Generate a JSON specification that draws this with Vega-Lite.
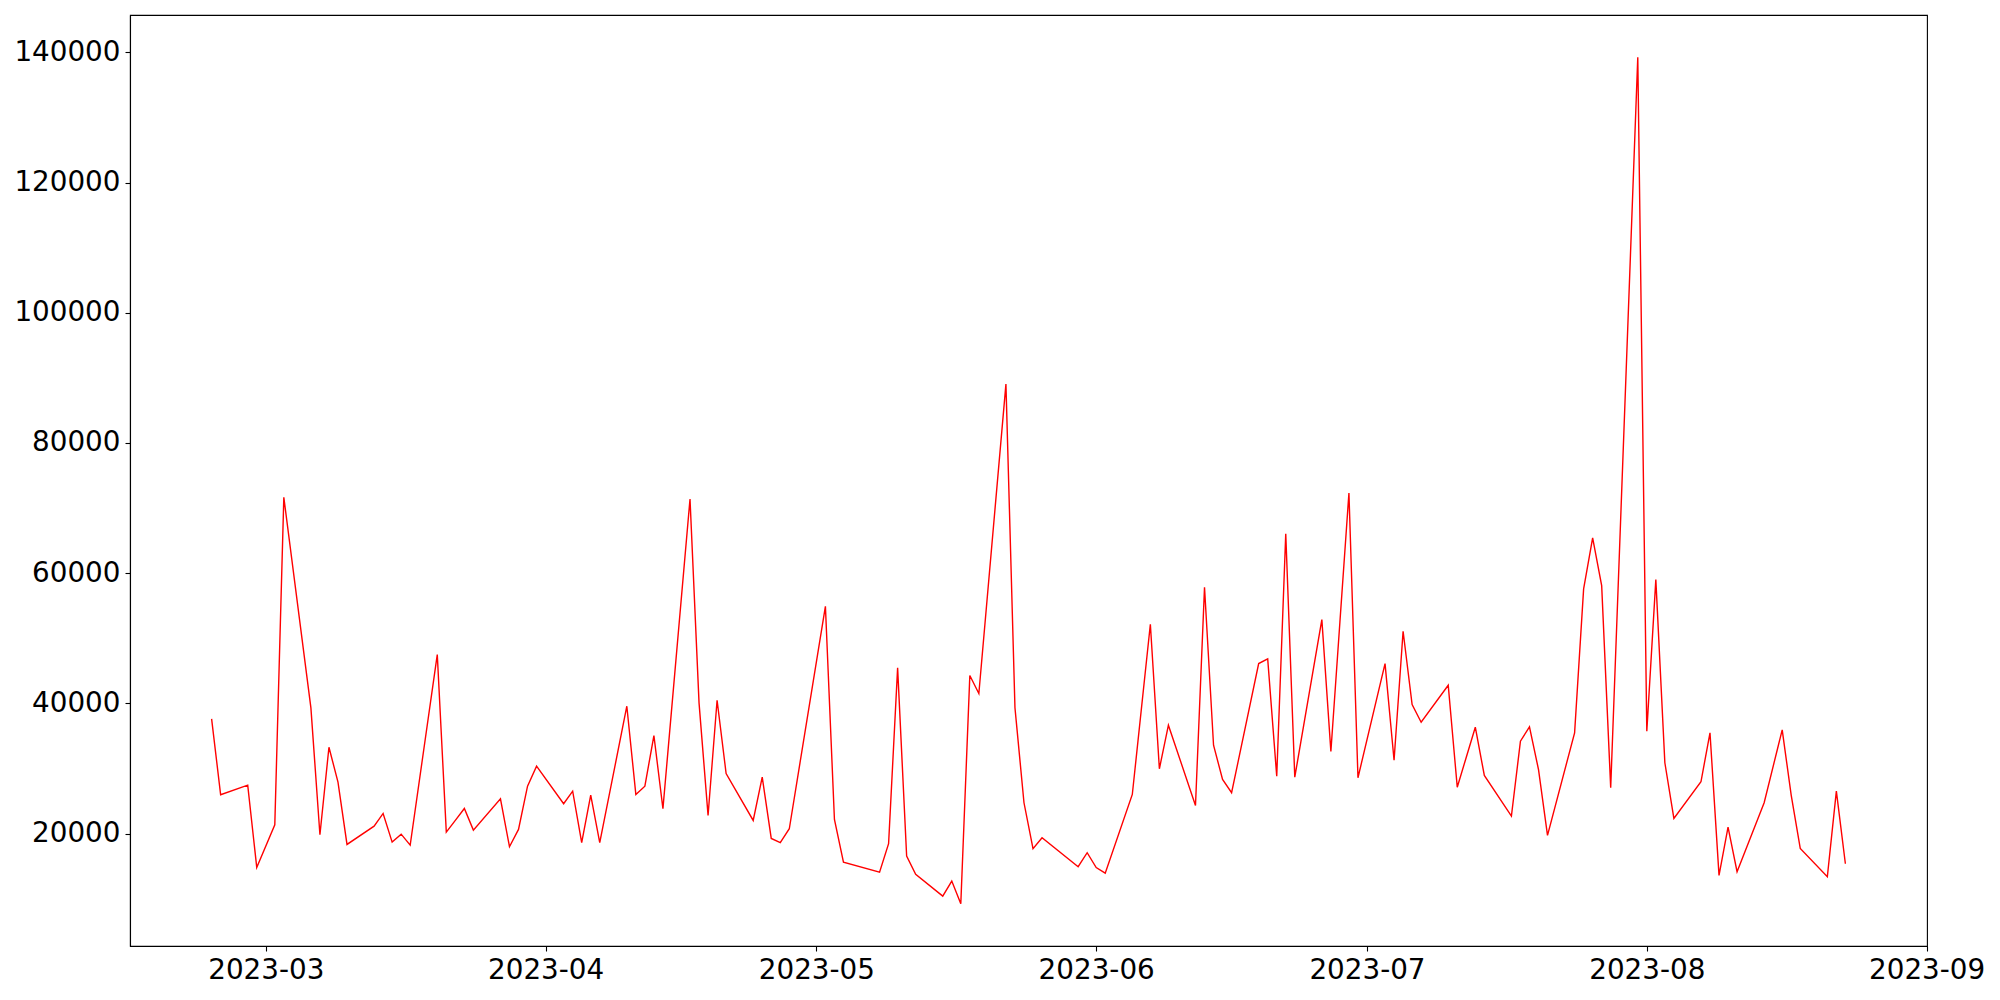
{
  "$schema": "https://vega.github.io/schema/vega-lite/v6.json",
  "width": 1797,
  "height": 931,
  "autosize": {"type": "none"},
  "padding": {"left": 130, "top": 15, "right": 73, "bottom": 54},
  "background": "white",
  "config": {
    "view": {"stroke": "black", "strokeWidth": 1.1},
    "axis": {
      "grid": false,
      "domainColor": "black",
      "domainWidth": 1.1,
      "tickColor": "black",
      "tickWidth": 1.1,
      "tickSize": 5,
      "labelFont": "DejaVu Sans",
      "labelFontSize": 27.8,
      "labelColor": "black",
      "labelPadding": 5,
      "labelOverlap": false,
      "labelFlush": false
    }
  },
  "data": {
    "values": [
      {"date": "2023-02-23", "value": 37636},
      {"date": "2023-02-24", "value": 25973},
      {"date": "2023-02-27", "value": 27446},
      {"date": "2023-02-28", "value": 14816},
      {"date": "2023-03-02", "value": 21369},
      {"date": "2023-03-03", "value": 71646},
      {"date": "2023-03-06", "value": 39325},
      {"date": "2023-03-07", "value": 19834},
      {"date": "2023-03-08", "value": 33278},
      {"date": "2023-03-09", "value": 27906},
      {"date": "2023-03-10", "value": 18345},
      {"date": "2023-03-13", "value": 21154},
      {"date": "2023-03-14", "value": 23103},
      {"date": "2023-03-15", "value": 18699},
      {"date": "2023-03-16", "value": 19926},
      {"date": "2023-03-17", "value": 18238},
      {"date": "2023-03-20", "value": 47504},
      {"date": "2023-03-21", "value": 20233},
      {"date": "2023-03-22", "value": 22050},
      {"date": "2023-03-23", "value": 23870},
      {"date": "2023-03-24", "value": 20541},
      {"date": "2023-03-27", "value": 25359},
      {"date": "2023-03-28", "value": 17993},
      {"date": "2023-03-29", "value": 20647},
      {"date": "2023-03-30", "value": 27293},
      {"date": "2023-03-31", "value": 30362},
      {"date": "2023-04-03", "value": 24592},
      {"date": "2023-04-04", "value": 26525},
      {"date": "2023-04-05", "value": 18607},
      {"date": "2023-04-06", "value": 25912},
      {"date": "2023-04-07", "value": 18607},
      {"date": "2023-04-10", "value": 39570},
      {"date": "2023-04-11", "value": 26019},
      {"date": "2023-04-12", "value": 27293},
      {"date": "2023-04-13", "value": 35074},
      {"date": "2023-04-14", "value": 23824},
      {"date": "2023-04-17", "value": 71400},
      {"date": "2023-04-18", "value": 40092},
      {"date": "2023-04-19", "value": 22796},
      {"date": "2023-04-20", "value": 40491},
      {"date": "2023-04-21", "value": 29242},
      {"date": "2023-04-24", "value": 22029},
      {"date": "2023-04-25", "value": 28674},
      {"date": "2023-04-26", "value": 19266},
      {"date": "2023-04-27", "value": 18607},
      {"date": "2023-04-28", "value": 20755},
      {"date": "2023-05-02", "value": 54917},
      {"date": "2023-05-03", "value": 22182},
      {"date": "2023-05-04", "value": 15629},
      {"date": "2023-05-08", "value": 14095},
      {"date": "2023-05-09", "value": 18453},
      {"date": "2023-05-10", "value": 45463},
      {"date": "2023-05-11", "value": 16550},
      {"date": "2023-05-12", "value": 13742},
      {"date": "2023-05-15", "value": 10411},
      {"date": "2023-05-16", "value": 12713},
      {"date": "2023-05-17", "value": 9245},
      {"date": "2023-05-18", "value": 44282},
      {"date": "2023-05-19", "value": 41519},
      {"date": "2023-05-22", "value": 89048},
      {"date": "2023-05-23", "value": 39325},
      {"date": "2023-05-24", "value": 24745},
      {"date": "2023-05-25", "value": 17686},
      {"date": "2023-05-26", "value": 19374},
      {"date": "2023-05-30", "value": 14923},
      {"date": "2023-05-31", "value": 17072},
      {"date": "2023-06-01", "value": 14800},
      {"date": "2023-06-02", "value": 13941},
      {"date": "2023-06-05", "value": 26019},
      {"date": "2023-06-07", "value": 52155},
      {"date": "2023-06-08", "value": 29963},
      {"date": "2023-06-09", "value": 36655},
      {"date": "2023-06-12", "value": 24331},
      {"date": "2023-06-13", "value": 57833},
      {"date": "2023-06-14", "value": 33585},
      {"date": "2023-06-15", "value": 28321},
      {"date": "2023-06-16", "value": 26280},
      {"date": "2023-06-19", "value": 46123},
      {"date": "2023-06-20", "value": 46845},
      {"date": "2023-06-21", "value": 28827},
      {"date": "2023-06-22", "value": 66074},
      {"date": "2023-06-23", "value": 28674},
      {"date": "2023-06-26", "value": 52876},
      {"date": "2023-06-27", "value": 32618},
      {"date": "2023-06-28", "value": 52500},
      {"date": "2023-06-29", "value": 72320},
      {"date": "2023-06-30", "value": 28582},
      {"date": "2023-07-03", "value": 46123},
      {"date": "2023-07-04", "value": 31283},
      {"date": "2023-07-05", "value": 51081},
      {"date": "2023-07-06", "value": 39831},
      {"date": "2023-07-07", "value": 37115},
      {"date": "2023-07-10", "value": 42793},
      {"date": "2023-07-11", "value": 27139},
      {"date": "2023-07-12", "value": 31740},
      {"date": "2023-07-13", "value": 36347},
      {"date": "2023-07-14", "value": 28935},
      {"date": "2023-07-17", "value": 22689},
      {"date": "2023-07-18", "value": 34199},
      {"date": "2023-07-19", "value": 36409},
      {"date": "2023-07-20", "value": 29856},
      {"date": "2023-07-21", "value": 19727},
      {"date": "2023-07-24", "value": 35488},
      {"date": "2023-07-25", "value": 57587},
      {"date": "2023-07-26", "value": 65414},
      {"date": "2023-07-27", "value": 58094},
      {"date": "2023-07-28", "value": 27047},
      {"date": "2023-07-31", "value": 139233},
      {"date": "2023-08-01", "value": 35734},
      {"date": "2023-08-02", "value": 59015},
      {"date": "2023-08-03", "value": 30884},
      {"date": "2023-08-04", "value": 22336},
      {"date": "2023-08-07", "value": 27968},
      {"date": "2023-08-08", "value": 35488},
      {"date": "2023-08-09", "value": 13588},
      {"date": "2023-08-10", "value": 21000},
      {"date": "2023-08-11", "value": 14160},
      {"date": "2023-08-14", "value": 24745},
      {"date": "2023-08-16", "value": 35948},
      {"date": "2023-08-17", "value": 25865},
      {"date": "2023-08-18", "value": 17732},
      {"date": "2023-08-21", "value": 13389},
      {"date": "2023-08-22", "value": 26525},
      {"date": "2023-08-23", "value": 15384}
    ]
  },
  "mark": {"type": "line", "color": "red", "strokeWidth": 1.4, "clip": true},
  "encoding": {
    "x": {
      "field": "date",
      "type": "temporal",
      "scale": {
        "type": "utc",
        "domain": [
          {"year": 2023, "month": 2, "date": 13, "hours": 23, "utc": true},
          {"year": 2023, "month": 9, "date": 1, "hours": 1, "utc": true}
        ]
      },
      "axis": {
        "title": null,
        "format": "%Y-%m",
        "values": [
          {"year": 2023, "month": 3, "date": 1, "utc": true},
          {"year": 2023, "month": 4, "date": 1, "utc": true},
          {"year": 2023, "month": 5, "date": 1, "utc": true},
          {"year": 2023, "month": 6, "date": 1, "utc": true},
          {"year": 2023, "month": 7, "date": 1, "utc": true},
          {"year": 2023, "month": 8, "date": 1, "utc": true},
          {"year": 2023, "month": 9, "date": 1, "utc": true}
        ]
      }
    },
    "y": {
      "field": "value",
      "type": "quantitative",
      "scale": {"domain": [2746, 145732], "nice": false, "zero": false},
      "axis": {
        "title": null,
        "format": "d",
        "values": [20000, 40000, 60000, 80000, 100000, 120000, 140000]
      }
    }
  }
}
